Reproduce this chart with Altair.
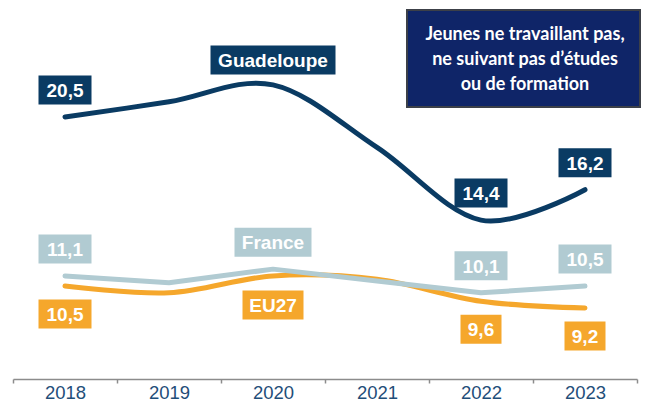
import altair as alt
import pandas as pd

# ---- data ----
years = ["2018", "2019", "2020", "2021", "2022", "2023"]
series_names = ["Guadeloupe", "France", "EU27"]
guadeloupe = [20.5, 21.4, 22.4, 18.7, 14.4, 16.2]
france = [11.1, 10.7, 11.5, 10.8, 10.1, 10.5]
eu27 = [10.5, 10.1, 11.1, 10.9, 9.6, 9.2]
value_label_years = ["2018", "2022", "2023"]
name_label_year = "2020"
title_lines = ["Jeunes ne travaillant pas,", "ne suivant pas d\u2019\u00e9tudes", "ou de formation"]

# ---- styles ----
colors = {"Guadeloupe": "#0A3B63", "France": "#B1CBD2", "EU27": "#F5A72C"}
interp = {"Guadeloupe": "cardinal", "France": "linear", "EU27": "cardinal"}
label_off = {"Guadeloupe": -27, "France": -27, "EU27": 28}
name_off = {"Guadeloupe": -25, "France": -27, "EU27": 29}
name_w = {"Guadeloupe": 125, "France": 77, "EU27": 61}
BOX_H = 29
LABEL_FONT = "Liberation Sans"

values = {"Guadeloupe": guadeloupe, "France": france, "EU27": eu27}
df = pd.DataFrame(
    [{"year": y, "series": s, "value": v} for s in series_names for y, v in zip(years, values[s])]
)
df["label"] = df["value"].map(lambda v: f"{v:.1f}".replace(".", ","))

x_enc = alt.X(
    "year:O",
    sort=years,
    scale=alt.Scale(type="band", paddingInner=0, paddingOuter=0),
    axis=alt.Axis(
        title=None,
        labelAngle=0,
        labelFont=LABEL_FONT,
        labelFontSize=18.5,
        labelColor="#1F4E79",
        labelPadding=0,
        domainColor="#8C8C8C",
        domainWidth=1.5,
        tickColor="#8C8C8C",
        tickWidth=1.5,
        tickSize=4,
        tickBand="extent",
        grid=False,
    ),
)
y_enc = alt.Y("value:Q", scale=alt.Scale(domain=[5, 26.95], nice=False, zero=False), axis=None)

base = alt.Chart(df)

layers = []
# lines: EU27 first, France over it, Guadeloupe on top
for s in ["EU27", "France", "Guadeloupe"]:
    layers.append(
        base.transform_filter(alt.datum.series == s)
        .mark_line(color=colors[s], strokeWidth=5, strokeCap="round", strokeJoin="round", interpolate=interp[s])
        .encode(x=x_enc, y=y_enc)
    )


def box_path(w, h):
    return f"M{-w/2},{-h/2}H{w/2}V{h/2}H{-w/2}Z"


# value labels
for s in series_names:
    for yr in value_label_years:
        txt = df[(df.series == s) & (df.year == yr)]["label"].iloc[0]
        w = 41 if len(txt) <= 3 else 53
        sel = base.transform_filter((alt.datum.series == s) & (alt.datum.year == yr))
        layers.append(
            sel.mark_point(shape=box_path(w, BOX_H), size=4, filled=True, fill=colors[s],
                           opacity=1, strokeWidth=0, yOffset=label_off[s])
            .encode(x=x_enc, y=y_enc)
        )
        layers.append(
            sel.mark_text(font=LABEL_FONT, fontSize=19, fontWeight="bold", color="white",
                          align="center", baseline="middle", yOffset=label_off[s] + 1)
            .encode(x=x_enc, y=y_enc, text="label:N")
        )
    # series name label
    sel = base.transform_filter((alt.datum.series == s) & (alt.datum.year == name_label_year))
    layers.append(
        sel.mark_point(shape=box_path(name_w[s], BOX_H), size=4, filled=True, fill=colors[s],
                       opacity=1, strokeWidth=0, yOffset=name_off[s])
        .encode(x=x_enc, y=y_enc)
    )
    layers.append(
        sel.mark_text(font=LABEL_FONT, fontSize=19, fontWeight="bold", color="white",
                      align="center", baseline="middle", yOffset=name_off[s] + 1)
        .encode(x=x_enc, y=y_enc, text="series:N")
    )

# title box
title_df = pd.DataFrame({"t": [0]})
layers.append(
    alt.Chart(title_df)
    .mark_rect(fill="#0F2568", stroke="#3C4048", strokeWidth=2)
    .encode(x=alt.value(394), x2=alt.value(627), y=alt.value(2), y2=alt.value(99))
)
layers.append(
    alt.Chart(title_df)
    .mark_text(font="Lato", fontSize=18, fontWeight="bold", color="white",
               align="center", baseline="middle", lineHeight=25)
    .encode(x=alt.value(512), y=alt.value(27), text=alt.value(title_lines))
)

chart = (
    alt.layer(*layers)
    .properties(
        width=624,
        height=371,
        padding={"left": 5, "top": 0, "right": 4, "bottom": 25},
        autosize=alt.AutoSizeParams(type="none"),
    )
    .configure_view(stroke=None)
)

chart.save("out.html", embed_options={"renderer": "svg", "actions": False})
